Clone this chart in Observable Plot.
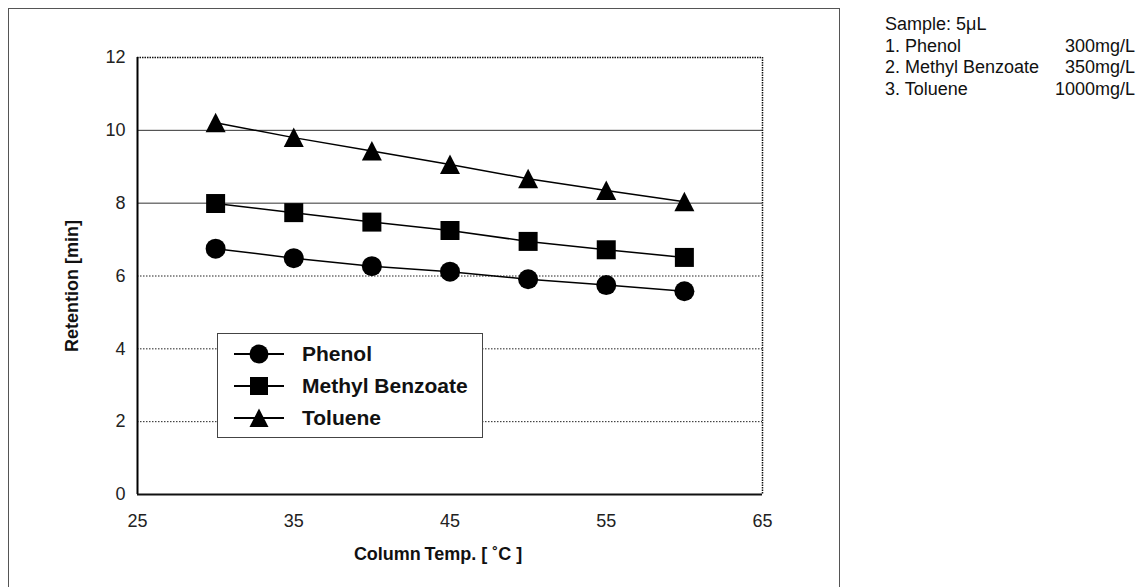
<!DOCTYPE html>
<html>
<head>
<meta charset="utf-8">
<script src="https://cdn.jsdelivr.net/npm/d3@7"></script>
<script src="https://cdn.jsdelivr.net/npm/@observablehq/plot@0.6"></script>
<style>
  body { margin: 0; background: #fff; font-family: "Liberation Sans", Arial, Helvetica, sans-serif; }
  #wrap { position: relative; width: 1139px; height: 587px; overflow: hidden; background: #fff; }
  #wrap svg.plot { position: absolute; left: 0; top: 0; }
  #outer { position: absolute; left: 8px; top: 8px; width: 832px; height: 600px; border: 1.5px solid #555; border-bottom: none; box-sizing: border-box; }
  #legend { position: absolute; left: 217px; top: 333px; width: 266px; height: 105px; border: 1px solid #444; background: #fff; box-sizing: border-box; }
  #legend .row { position: absolute; left: 0; height: 24px; width: 264px; }
  #legend .row svg { position: absolute; left: 0; top: 0; }
  #legend .row span { position: absolute; left: 84px; top: 0; line-height: 24px; font-weight: bold; font-size: 21px; color: #111; white-space: nowrap; }
  #sample { position: absolute; left: 885px; top: 14px; width: 250px; font-size: 18px; color: #111; }
  #sample .ln { display: flex; justify-content: space-between; height: 21.7px; line-height: 21.7px; white-space: nowrap; }
</style>
</head>
<body>
<div id="wrap">
  <div id="outer"></div>
</div>
<script>
// ---- data ----
const temps = [30, 35, 40, 45, 50, 55, 60];
const phenol = [6.75, 6.49, 6.27, 6.12, 5.91, 5.75, 5.58];
const methylBenzoate = [7.99, 7.74, 7.48, 7.25, 6.95, 6.72, 6.51];
const toluene = [10.21, 9.80, 9.43, 9.06, 8.67, 8.35, 8.04];
const seriesNames = ["Phenol", "Methyl Benzoate", "Toluene"];
const xTicks = [25, 35, 45, 55, 65];
const yTicks = [0, 2, 4, 6, 8, 10, 12];
const solidGrid = [8, 10];
const dottedGrid = [2, 4, 6];
const xTitle = "Column\u2009Temp. [ \u02DAC ]";
const yTitle = "Retention [min]";
const sampleLines = [
  ["Sample: 5\u03BCL", ""],
  ["1. Phenol", "300mg/L"],
  ["2. Methyl Benzoate", "350mg/L"],
  ["3. Toluene", "1000mg/L"]
];

// ---- table ----
const seriesValues = [phenol, methylBenzoate, toluene];
const rows = [];
seriesNames.forEach((name, s) => {
  temps.forEach((t, i) => rows.push({ series: name, t, v: seriesValues[s][i] }));
});

// ---- symbols ----
const squareSym = { draw(ctx, size) { const r = Math.sqrt(size / Math.PI) * 0.95; ctx.rect(-r, -r, 2 * r, 2 * r); } };
const triSym = { draw(ctx, size) { const r = Math.sqrt(size / Math.PI); ctx.moveTo(0, -r); ctx.lineTo(r, r * 0.95); ctx.lineTo(-r, r * 0.95); ctx.closePath(); } };
const symbols = [d3.symbolCircle, squareSym, triSym];

const W = 1139, H = 587;
const chart = Plot.plot({
  width: W, height: H,
  marginLeft: 137, marginRight: W - 762, marginTop: 57, marginBottom: H - 494,
  style: { fontFamily: "'Liberation Sans', Arial, Helvetica, sans-serif", fontSize: "18px", background: "transparent", color: "#222" },
  x: { domain: [25, 65] },
  y: { domain: [0, 12] },
  marks: [
    Plot.ruleY(solidGrid, { stroke: "#333", strokeWidth: 1 }),
    Plot.ruleY(dottedGrid, { stroke: "#222", strokeWidth: 1, strokeDasharray: "1.5,1.5" }),
    Plot.ruleY([12], { stroke: "#111", strokeWidth: 1.5, strokeDasharray: "1.5,1" }),
    Plot.ruleX([65], { stroke: "#111", strokeWidth: 1.5, strokeDasharray: "1.5,1" }),
    Plot.ruleX([25], { stroke: "#000", strokeWidth: 2 }),
    Plot.ruleY([0], { stroke: "#111", strokeWidth: 2 }),
    Plot.axisX({ ticks: xTicks, tickSize: 0, tickPadding: 20, label: null, fontSize: 18 }),
    Plot.axisY({ ticks: yTicks, tickSize: 0, tickPadding: 12, label: null, fontSize: 18 }),
    Plot.line(rows, { x: "t", y: "v", z: "series", stroke: "#000", strokeWidth: 1.5 }),
    ...seriesNames.map((name, s) =>
      Plot.dot(rows.filter(d => d.series === name), { x: "t", y: "v", r: 10, symbol: symbols[s], fill: "#000", stroke: null })
    ),
    Plot.text([xTitle], { frameAnchor: "bottom", dx: -12, dy: 65, fontWeight: "bold", fontSize: 18, fill: "#111", textAnchor: "middle" }),
    Plot.text([yTitle], { frameAnchor: "left", dx: -65, dy: 10, rotate: -90, textAnchor: "middle", fontWeight: "bold", fontSize: 18, fill: "#111" })
  ]
});
chart.classList.add("plot");
const wrap = document.getElementById("wrap");
wrap.appendChild(chart);

// ---- legend ----
const legend = document.createElement("div");
legend.id = "legend";
const rowCenters = [20, 52, 84];
seriesNames.forEach((name, s) => {
  const row = document.createElement("div");
  row.className = "row";
  row.style.top = (rowCenters[s] - 12) + "px";
  const svg = d3.create("svg").attr("width", 80).attr("height", 24);
  svg.append("line").attr("x1", 16).attr("x2", 66).attr("y1", 12).attr("y2", 12).attr("stroke", "#000").attr("stroke-width", 2);
  svg.append("path").attr("transform", "translate(41,12)").attr("fill", "#000")
    .attr("d", d3.symbol(symbols[s], Math.PI * 90)());
  row.appendChild(svg.node());
  const sp = document.createElement("span");
  sp.textContent = name;
  row.appendChild(sp);
  legend.appendChild(row);
});
wrap.appendChild(legend);

// ---- sample info ----
const sample = document.createElement("div");
sample.id = "sample";
sampleLines.forEach(([a, b]) => {
  const ln = document.createElement("div");
  ln.className = "ln";
  const s1 = document.createElement("span"); s1.textContent = a;
  const s2 = document.createElement("span"); s2.textContent = b;
  ln.appendChild(s1); ln.appendChild(s2);
  sample.appendChild(ln);
});
wrap.appendChild(sample);
</script>
</body>
</html>
